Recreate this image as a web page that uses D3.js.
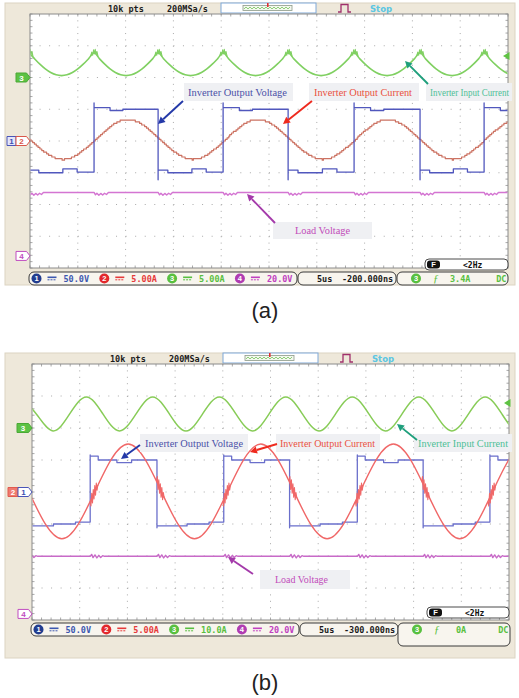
<!DOCTYPE html>
<html>
<head>
<meta charset="utf-8">
<script src="https://cdn.jsdelivr.net/npm/d3@7/dist/d3.min.js"></script>
<style>
  html, body { margin: 0; padding: 0; background: #fff; }
  svg { display: block; }
</style>
</head>
<body>
<script>
// Two oscilloscope captures of the inverter waveforms, (a) and (b)

// Horizontal: 10 divisions at 5 µs/div, trigger at centre; vertical: 8 divisions
const timeTicks = [-25, -20, -15, -10, -5, 0, 5, 10, 15, 20, 25];
const divTicks = [-4, -3, -2, -1, 0, 1, 2, 3, 4];
const channelIds = ["1", "2", "3", "4"];
const noteText = ["Inverter Output Voltage", "Inverter Output Current", "Inverter Input Current", "Load Voltage"];

// ---- capture (a) ----
const aChScale  = [50, 5, 5, 20];            // V/div, A/div, A/div, V/div
const aChOffset = [0, 0, 2, -3.62];          // ground markers, divisions
const aChText   = ["50.0V", "5.00A", "5.00A", "20.0V"];
const aTimeText = ["5us", "-200.000ns"];
const aTrigText = ["3.4A", "DC"];
const aTrigLevel = 3.4;                       // A, channel 3
// output-voltage switching instants (µs), first one is a falling edge
const aEdges = [-25.1, -18.3, -11.6, -4.8, 2.0, 8.9, 15.8, 22.5, 29.3];
const aVoltSpike = [60, -61];                 // overshoot on rising / falling edge (V)
const aVoltHigh = [[0, 52.5], [0.25, 48], [0.45, 50]];          // [fraction of interval, V]
const aVoltLow  = [[0, -46], [0.15, -50], [0.52, -44], [0.74, -49]];
// output current: crossings, troughs and peaks (µs, A)
const aCurT = [-25.0, -21.6, -18.2, -14.8, -11.4, -8.0, -4.6, -1.2, 2.2, 5.6, 9.0, 12.4, 15.8, 19.2, 22.6, 26.0, 29.4];
const aCurI = [0.2, -2.9, 0.2, 3.4, 0.2, -2.9, 0.2, 3.4, 0.2, -2.9, 0.2, 3.4, 0.2, -2.9, 0.2, 3.4, 0.2];
// input current across one switching interval (A), edge to edge in 12 steps
const aInProfile = [3.9, 2.97, 2.1, 1.35, 0.78, 0.42, 0.3, 0.42, 0.78, 1.35, 2.1, 2.97, 3.9];
const aInGlitch = [[-0.35, -0.55], [-0.24, 0.1], [-0.14, -0.4], [-0.05, 0.45], [0.04, -0.2], [0.12, 0.55], [0.2, -0.2], [0.3, 0.2], [0.42, -0.6]];
const aLoadLevel = 40;                         // V
const aLoadGlitch = [[0, 0], [0.15, -1.5], [0.3, -0.5], [0.5, -1.8], [0.7, -0.6], [0.9, -1.6], [1.1, -0.5], [1.3, -1.3], [1.5, 0]];

// ---- capture (b) ----
const bChScale  = [50, 5, 10, 20];
const bChOffset = [0, 0, 2, -3.81];
const bChText   = ["50.0V", "5.00A", "10.0A", "20.0V"];
const bTimeText = ["5us", "-300.000ns"];
const bTrigText = ["0A", "DC"];
const bTrigLevel = 7.8;
const bEdges = [-25.9, -18.9, -11.9, -4.9, 2.0, 9.1, 16.0, 23.0, 30.0];
const bVoltSpike = [58, -56];
const bVoltHigh = [[0, 56], [0.12, 50], [0.4, 46], [0.62, 50]];
const bVoltLow  = [[0, -53], [0.45, -50], [0.78, -47]];
const bCurT = [-25.35, -21.87, -18.4, -14.92, -11.45, -7.97, -4.5, -1.02, 2.45, 5.93, 9.4, 12.88, 16.35, 19.83, 23.3, 26.78, 30.25];
const bCurI = [0.1, -7.3, 0.1, 7.5, 0.1, -7.3, 0.1, 7.5, 0.1, -7.3, 0.1, 7.5, 0.1, -7.3, 0.1, 7.5, 0.1];
// switching noise riding on the current at its zero crossings (µs, A) for a rising crossing
const bCurGlitch = [[-0.5, -1.6], [-0.42, -2.3], [-0.34, -0.3], [-0.26, -1.8], [-0.18, 0.3], [-0.1, -1.2], [-0.02, 0.9], [0.06, -0.6], [0.14, 1.3], [0.22, 0.2], [0.3, 1.0]];
const bInT = [-26.3, -24.55, -22.8, -21.05, -19.3, -17.57, -15.83, -14.09, -12.35, -10.6, -8.86, -7.12, -5.37, -3.63, -1.89, -0.15, 1.6, 3.34, 5.08, 6.82, 8.57, 10.31, 12.05, 13.79, 15.54, 17.28, 19.02, 20.76, 22.5, 24.25, 25.99, 27.73, 29.5];
const bInI = [9.7, 4.4, -0.9, 4.4, 9.7, 4.4, -0.9, 4.4, 9.7, 4.4, -0.9, 4.4, 9.7, 4.4, -0.9, 4.4, 9.7, 4.4, -0.9, 4.4, 9.7, 4.4, -0.9, 4.4, 9.7, 4.4, -0.9, 4.4, 9.7, 4.4, -0.9, 4.4, 9.7];
const bLoadLevel = 36;
const bLoadGlitch = [[0, 0], [0.15, 1.2], [0.3, -0.8], [0.5, 0.9], [0.7, -1.0], [0.9, 0.6], [1.1, -0.7], [1.3, 0.4], [1.5, 0]];

// ---------- drawing ----------
const MONO = "'DejaVu Sans Mono', 'Liberation Mono', monospace";
const SERIF = "'Liberation Serif', 'Times New Roman', serif";
const SANS = "'Liberation Sans', Arial, sans-serif";

const chDark = ["#223d8f", "#e3282c", "#58c03f", "#b03cb2"];
const chText = ["#3d58b0", "#e63a3a", "#58bf40", "#c040c0"];
const noteColor = ["#4b50a8", "#ea5040", "#4cbf96", "#c24cba"];
const arrowColor = ["#2439a8", "#ee2a1e", "#1f9f7c", "#a43aaa"];

const svg = d3.select("body").append("svg")
  .attr("width", 519).attr("height", 698)
  .attr("font-family", SANS);
svg.append("rect").attr("width", 519).attr("height", 698).attr("fill", "#fff");

function buildSquare(edges, high, low, spike) {
  const pts = [];
  for (let i = 0; i < edges.length - 1; i++) {
    const e = edges[i], h = edges[i + 1] - e;
    const rising = i % 2 === 1;
    const steps = rising ? high : low;
    pts.push([e, rising ? spike[0] : spike[1]]);
    steps.forEach((s, j) => {
      const f1 = j + 1 < steps.length ? steps[j + 1][0] : 1;
      pts.push([e + s[0] * h, s[1]]);
      pts.push([e + f1 * h, s[1]]);
    });
  }
  return pts;
}

function buildCusped(edges, profile) {
  const pts = [];
  const n = profile.length - 1;
  for (let i = 0; i < edges.length - 1; i++) {
    const e = edges[i], h = edges[i + 1] - e;
    for (let k = i === 0 ? 0 : 1; k <= n; k++) pts.push([e + (k / n) * h, profile[k]]);
  }
  return pts;
}

function buildLoad(edges, level, glitch) {
  const pts = [[-27, level]];
  edges.forEach(e => glitch.forEach(p => pts.push([e + p[0], level + p[1]])));
  pts.push([31, level]);
  return pts;
}

function tag(g, x1, x2, y, label, fill, stroke, textFill, pointed) {
  const h = 4.5;
  const d = pointed
    ? `M${x1},${y - h}H${x2 - 3.5}L${x2},${y}L${x2 - 3.5},${y + h}H${x1}Z`
    : `M${x1},${y - h}H${x2}V${y + h}H${x1}Z`;
  g.append("path").attr("d", d).attr("fill", fill).attr("stroke", stroke).attr("stroke-width", 1);
  g.append("text").attr("x", (x1 + x2 - (pointed ? 3 : 0)) / 2).attr("y", y + 3)
    .attr("text-anchor", "middle").attr("font-size", 8).attr("font-weight", "bold")
    .attr("fill", textFill).text(label);
}

function arrow(g, tail, head, color) {
  const dx = head[0] - tail[0], dy = head[1] - tail[1];
  const len = Math.hypot(dx, dy), ux = dx / len, uy = dy / len;
  const hl = 7, hw = 3.6;
  const bx = head[0] - ux * hl, by = head[1] - uy * hl;
  g.append("line").attr("x1", tail[0]).attr("y1", tail[1]).attr("x2", bx).attr("y2", by)
    .attr("stroke", color).attr("stroke-width", 1.9);
  g.append("path")
    .attr("d", `M${head[0]},${head[1]}L${bx - uy * hw},${by + ux * hw}L${bx + uy * hw},${by - ux * hw}Z`)
    .attr("fill", color);
}

function drawCapture(o) {
  const L = o.layout;
  const g = svg.append("g");
  const [gx0, gy0, gx1, gy1] = L.grid;

  // bezel
  g.append("rect").attr("x", L.frame[0]).attr("y", L.frame[1])
    .attr("width", L.frame[2]).attr("height", L.frame[3])
    .attr("fill", "#eee8da").attr("stroke", "#dcd4c2");

  const x = d3.scaleLinear().domain([timeTicks[0], timeTicks[timeTicks.length - 1]]).range([gx0, gx1]);
  const yDiv = d3.scaleLinear().domain([divTicks[0], divTicks[divTicks.length - 1]]).range([gy1, gy0]);
  const yCh = i => v => yDiv(o.offset[i] + v / o.scale[i]);

  // header
  const ft = L.frame[1];
  const hx = gx0;
  const hb = ft + 8.5;
  g.append("text").attr("x", hx + 78).attr("y", hb).attr("font-family", MONO).attr("font-weight", "bold")
    .attr("font-size", 8.5).attr("fill", "#1c1c1c").text("10k pts");
  g.append("text").attr("x", hx + 137).attr("y", hb).attr("font-family", MONO).attr("font-weight", "bold")
    .attr("font-size", 8.5).attr("fill", "#1c1c1c").text("200MSa/s");
  g.append("rect").attr("x", hx + 191).attr("y", ft).attr("width", 95).attr("height", 10)
    .attr("fill", "#fff").attr("stroke", "#7ea8d8").attr("stroke-width", 1);
  g.append("rect").attr("x", hx + 213).attr("y", ft + 2.5).attr("width", 49).attr("height", 5)
    .attr("fill", "#f3f7ee").attr("stroke", "#8c9a88").attr("stroke-width", 0.8);
  const zig = d3.range(hx + 214, hx + 261, 2).map((v, i) => [v, ft + (i % 2 ? 4 : 6)]);
  g.append("path").attr("d", d3.line()(zig)).attr("fill", "none").attr("stroke", "#74c45a").attr("stroke-width", 0.8);
  g.append("rect").attr("x", hx + 237).attr("y", ft).attr("width", 1.6).attr("height", 4).attr("fill", "#e03030");
  g.append("path").attr("d", `M${x(0) - 4.5},${gy0}H${x(0) + 4.5}L${x(0)},${gy0 + 5}Z`).attr("fill", "#3ea6e0");
  g.append("path").attr("d", `M${hx + 308},${ft + 9}H${hx + 311}V${ft + 1.5}H${hx + 318}V${ft + 9}H${hx + 321}`)
    .attr("fill", "none").attr("stroke", "#a0306c").attr("stroke-width", 1.3);
  g.append("text").attr("x", hx + 340).attr("y", hb).attr("font-family", "'DejaVu Sans', sans-serif")
    .attr("font-weight", "bold").attr("font-size", 8.5).attr("fill", "#5cc6e2").text("Stop");

  // graticule
  g.append("rect").attr("x", gx0).attr("y", gy0).attr("width", gx1 - gx0).attr("height", gy1 - gy0).attr("fill", "#fff");
  const dxMinor = (x(5) - x(0)) / 5, dyMinor = (yDiv(0) - yDiv(1)) / 5;
  const grid = g.append("g").attr("stroke", "#a9a9a9").attr("stroke-width", 1);
  timeTicks.slice(1, -1).forEach(t => {
    grid.append("line").attr("x1", x(t)).attr("x2", x(t)).attr("y1", gy0).attr("y2", gy1)
      .attr("stroke-dasharray", `1 ${dyMinor - 1}`);
  });
  divTicks.slice(1, -1).forEach(d => {
    grid.append("line").attr("y1", yDiv(d)).attr("y2", yDiv(d)).attr("x1", gx0).attr("x2", gx1)
      .attr("stroke-dasharray", `1 ${dxMinor - 1}`);
  });
  d3.range(timeTicks[0], timeTicks[timeTicks.length - 1] + 0.01, 1).forEach(t => {
    grid.append("line").attr("x1", x(t)).attr("x2", x(t)).attr("y1", gy0).attr("y2", gy0 + 2.5);
    grid.append("line").attr("x1", x(t)).attr("x2", x(t)).attr("y1", gy1 - 2.5).attr("y2", gy1);
  });
  d3.range(divTicks[0], divTicks[divTicks.length - 1] + 0.01, 0.2).forEach(d => {
    grid.append("line").attr("y1", yDiv(d)).attr("y2", yDiv(d)).attr("x1", gx0).attr("x2", gx0 + 2.5);
    grid.append("line").attr("y1", yDiv(d)).attr("y2", yDiv(d)).attr("x1", gx1 - 2.5).attr("x2", gx1);
  });
  g.append("rect").attr("x", gx0).attr("y", gy0).attr("width", gx1 - gx0).attr("height", gy1 - gy0)
    .attr("fill", "none").attr("stroke", "#8a8a8a").attr("stroke-width", 1);

  // traces
  const clipId = "clip" + o.name;
  g.append("clipPath").attr("id", clipId).append("rect")
    .attr("x", gx0 + 0.5).attr("y", gy0 + 0.5).attr("width", gx1 - gx0 - 1).attr("height", gy1 - gy0 - 1);
  const tr = g.append("g").attr("clip-path", `url(#${clipId})`).attr("fill", "none")
    .attr("stroke-linejoin", "round");
  const lineFor = (i, curve) => d3.line().x(d => x(d[0])).y(d => yCh(i)(d[1])).curve(curve || d3.curveLinear);

  const traces = {
    load: () => {
      tr.append("path").attr("d", lineFor(3)(buildLoad(o.edges, o.loadLevel, o.loadGlitch)))
        .attr("stroke", o.colors[3]).attr("stroke-width", 1.4);
    },
    input: () => {
      tr.append("path").attr("d", lineFor(2, o.inCurve)(o.inputPts))
        .attr("stroke", o.colors[2]).attr("stroke-width", o.inWidth);
      (o.inGlitchPts || []).forEach(p => tr.append("path").attr("d", lineFor(2)(p))
        .attr("stroke", o.colors[2]).attr("stroke-width", 1.1));
    },
    current: () => {
      const pts = o.curT.map((t, i) => [t, o.curI[i]]);
      const smooth = tr.append("path").attr("d", lineFor(1, d3.curveNatural)(pts))
        .attr("stroke", o.colors[1]).attr("stroke-width", o.curWidth);
      if (o.curQuant) {
        // digitised look: resample the curve and hold each sample on the ADC level grid
        const node = smooth.node(), total = node.getTotalLength();
        const yc = yCh(1)(0), q = o.curQuant;
        const held = d3.range(0, total, 1.2).map(l => {
          const p = node.getPointAtLength(l);
          return [p.x, yc + Math.round((p.y - yc) / q) * q];
        });
        smooth.attr("d", d3.line().curve(d3.curveStepAfter)(held));
      }
      (o.curGlitchPts || []).forEach(p => tr.append("path").attr("d", lineFor(1)(p))
        .attr("stroke", o.colors[1]).attr("stroke-width", 1.1));
    },
    voltage: () => {
      tr.append("path").attr("d", lineFor(0)(buildSquare(o.edges, o.vHigh, o.vLow, o.vSpike)))
        .attr("stroke", o.colors[0]).attr("stroke-width", 1.3);
    }
  };
  o.order.forEach(k => traces[k]());

  // channel ground markers and trigger level
  o.tags.forEach(t => tag(g, t.x1, t.x2, yCh(t.ch)(0), channelIds[t.ch], t.fill, t.stroke, t.text, t.pointed));
  const ty = yCh(2)(o.trigLevel);
  g.append("path").attr("d", `M${gx1 + 1.5},${ty - 4}V${ty + 4}L${gx1 - 5},${ty}Z`).attr("fill", "#5fc244");

  // annotations
  o.notes.forEach((n, i) => {
    g.append("rect").attr("x", n.box[0]).attr("y", n.box[1]).attr("width", n.box[2]).attr("height", n.box[3])
      .attr("fill", "#eff0f3");
    g.append("text").attr("x", n.tx).attr("y", n.ty).attr("font-family", SERIF).attr("font-size", n.fs || 10.5)
      .attr("textLength", n.tw).attr("lengthAdjust", "spacingAndGlyphs")
      .attr("fill", noteColor[i]).text(noteText[i]);
    arrow(g, n.tail, n.head, arrowColor[i]);
  });

  // frequency counter
  const F = L.fbox;
  g.append("rect").attr("x", F[0]).attr("y", F[1]).attr("width", F[2]).attr("height", F[3]).attr("rx", 4)
    .attr("fill", "#fff").attr("stroke", "#4a4a4a");
  g.append("rect").attr("x", F[0] + 2).attr("y", F[1] + 1.5).attr("width", 13).attr("height", F[3] - 3).attr("rx", 3)
    .attr("fill", "#111");
  g.append("text").attr("x", F[0] + 8.5).attr("y", F[1] + 8.3).attr("text-anchor", "middle").attr("font-size", 7.5)
    .attr("font-weight", "bold").attr("fill", "#fff").text("F");
  g.append("text").attr("x", F[0] + 38).attr("y", F[1] + 8.5).attr("font-family", MONO).attr("font-weight", "bold")
    .attr("font-size", 8).attr("fill", "#111").text("<2Hz");

  // status line
  const sy = L.statusY, sh = 13, cy = sy + sh / 2;
  g.append("rect").attr("x", gx0 - 1).attr("y", sy).attr("width", L.chanBoxW).attr("height", sh).attr("rx", 5)
    .attr("fill", "#f8f5ee").attr("stroke", "#3a3a3a");
  o.chText.forEach((txt, i) => {
    const cx = gx0 + 6.5 + i * 67.8;
    g.append("circle").attr("cx", cx).attr("cy", cy).attr("r", 5).attr("fill", chDark[i]);
    g.append("text").attr("x", cx).attr("y", cy + 2.8).attr("text-anchor", "middle").attr("font-size", 7.5)
      .attr("font-weight", "bold").attr("fill", "#fff").text(channelIds[i]);
    g.append("line").attr("x1", cx + 11).attr("x2", cx + 20).attr("y1", cy - 1.2).attr("y2", cy - 1.2)
      .attr("stroke", chText[i]).attr("stroke-width", 1.6);
    g.append("line").attr("x1", cx + 11).attr("x2", cx + 20).attr("y1", cy + 1.3).attr("y2", cy + 1.3)
      .attr("stroke", chText[i]).attr("stroke-width", 1).attr("stroke-dasharray", "2 1");
    g.append("text").attr("x", cx + 27).attr("y", cy + 3).attr("font-family", MONO).attr("font-weight", "bold")
      .attr("font-size", 8.5).attr("fill", chText[i]).text(txt);
  });
  const TB = L.timeBox;
  g.append("rect").attr("x", TB[0]).attr("y", sy).attr("width", TB[1]).attr("height", sh).attr("rx", 5)
    .attr("fill", "#f8f5ee").attr("stroke", "#3a3a3a");
  g.append("text").attr("x", TB[0] + 19).attr("y", cy + 3).attr("font-family", MONO).attr("font-weight", "bold")
    .attr("font-size", 8.5).attr("fill", "#1a1a1a").text(o.timeText[0]);
  g.append("text").attr("x", TB[0] + 44).attr("y", cy + 3).attr("font-family", MONO).attr("font-weight", "bold")
    .attr("font-size", 8.5).attr("fill", "#1a1a1a").text(o.timeText[1]);
  const RB = L.trigBox;
  g.append("rect").attr("x", RB[0]).attr("y", sy).attr("width", RB[1]).attr("height", RB[2]).attr("rx", 5)
    .attr("fill", "#f8f5ee").attr("stroke", "#3a3a3a");
  g.append("circle").attr("cx", RB[0] + 19).attr("cy", cy).attr("r", 5).attr("fill", chDark[2]);
  g.append("text").attr("x", RB[0] + 19).attr("y", cy + 2.8).attr("text-anchor", "middle").attr("font-size", 7.5)
    .attr("font-weight", "bold").attr("fill", "#fff").text(channelIds[2]);
  g.append("text").attr("x", RB[0] + 36).attr("y", cy + 3.5).attr("font-family", SERIF).attr("font-style", "italic")
    .attr("font-size", 11).attr("fill", chText[2]).text("ƒ");
  g.append("text").attr("x", RB[3]).attr("y", cy + 3).attr("font-family", MONO).attr("font-weight", "bold")
    .attr("font-size", 8.5).attr("fill", chText[2]).text(o.trigText[0]);
  g.append("text").attr("x", RB[0] + RB[1] - 1.5).attr("y", cy + 3).attr("text-anchor", "end")
    .attr("font-family", MONO).attr("font-weight", "bold").attr("font-size", 8.5)
    .attr("fill", chText[2]).text(o.trigText[1]);

  // caption
  svg.append("text").attr("x", 265).attr("y", L.captionY).attr("text-anchor", "middle")
    .attr("font-size", 22).attr("fill", "#222").text(o.caption);
}

// glitch overlays
function cuspGlitches(edges, cusp, pattern) {
  return edges.map(e => pattern.map(p => [e + p[0], cusp + p[1]]));
}
function crossingGlitches(T, I, pattern) {
  const out = [];
  for (let i = 0; i < T.length - 1; i += 2) {
    const s = Math.sign(I[i + 1] - I[i]);
    out.push(pattern.map(p => [T[i] + p[0], I[i] + s * p[1]]));
  }
  return out;
}

drawCapture({
  name: "a", caption: "(a)",
  layout: {
    frame: [5, 3, 510, 282], grid: [30, 14, 508, 268],
    statusY: 272, chanBoxW: 268, timeBox: [298, 98], trigBox: [397, 111, 13, 450],
    fbox: [425, 259, 83, 11], captionY: 318
  },
  scale: aChScale, offset: aChOffset, chText: aChText, timeText: aTimeText, trigText: aTrigText,
  trigLevel: aTrigLevel,
  colors: ["#5057bd", "#cc7262", "#80d062", "#d475d2"],
  edges: aEdges, vHigh: aVoltHigh, vLow: aVoltLow, vSpike: aVoltSpike,
  curT: aCurT, curI: aCurI, curWidth: 1.2, curQuant: 1.6,
  inputPts: buildCusped(aEdges, aInProfile), inCurve: d3.curveCatmullRom, inWidth: 1.6,
  inGlitchPts: cuspGlitches(aEdges, aInProfile[0], aInGlitch),
  loadLevel: aLoadLevel, loadGlitch: aLoadGlitch,
  order: ["load", "input", "current", "voltage"],
  tags: [
    { ch: 2, x1: 16, x2: 30, fill: "#5cc244", stroke: "#4aa836", text: "#fff", pointed: true },
    { ch: 0, x1: 7, x2: 16, fill: "#e3e6fa", stroke: "#4a55b8", text: "#3d4db0", pointed: false },
    { ch: 1, x1: 16, x2: 30, fill: "#fff", stroke: "#d9574a", text: "#d9574a", pointed: true },
    { ch: 3, x1: 16, x2: 30, fill: "#fff", stroke: "#c04cc0", text: "#c04cc0", pointed: true }
  ],
  notes: [
    { tx: 188, ty: 95.5, tw: 99, box: [184, 83, 109, 18], tail: [183, 101], head: [158, 124] },
    { tx: 314, ty: 95.5, tw: 98, box: [309, 83, 110, 18], tail: [312, 101], head: [283, 124] },
    { tx: 430, ty: 95.5, tw: 79, fs: 9.5, box: [426, 83, 86, 18], tail: [428, 84], head: [405, 61] },
    { tx: 295, ty: 233.5, tw: 55, box: [273, 222, 99, 17], tail: [275, 223], head: [247, 194] }
  ]
});

drawCapture({
  name: "b", caption: "(b)",
  layout: {
    frame: [5, 353, 510, 305], grid: [32, 364, 509, 620],
    statusY: 623, chanBoxW: 268, timeBox: [300, 98], trigBox: [398, 112, 23, 456],
    fbox: [427, 607, 82, 11], captionY: 690
  },
  scale: bChScale, offset: bChOffset, chText: bChText, timeText: bTimeText, trigText: bTrigText,
  trigLevel: bTrigLevel,
  colors: ["#6a6fcb", "#f06868", "#88cc58", "#c86ac8"],
  edges: bEdges, vHigh: bVoltHigh, vLow: bVoltLow, vSpike: bVoltSpike,
  curT: bCurT, curI: bCurI, curWidth: 1.4,
  curGlitchPts: crossingGlitches(bCurT, bCurI, bCurGlitch),
  inputPts: bInT.map((t, i) => [t, bInI[i]]), inCurve: d3.curveNatural, inWidth: 1.5,
  loadLevel: bLoadLevel, loadGlitch: bLoadGlitch,
  order: ["load", "input", "voltage", "current"],
  tags: [
    { ch: 2, x1: 17, x2: 32, fill: "#5cc244", stroke: "#4aa836", text: "#fff", pointed: true },
    { ch: 1, x1: 8, x2: 18, fill: "#f07a6e", stroke: "#e05a4e", text: "#fff", pointed: false },
    { ch: 0, x1: 18, x2: 32, fill: "#fff", stroke: "#4a55b8", text: "#3d4db0", pointed: true },
    { ch: 3, x1: 18, x2: 32, fill: "#fff", stroke: "#c04cc0", text: "#c04cc0", pointed: true }
  ],
  notes: [
    { tx: 145, ty: 446.5, tw: 98, box: [140, 434, 108, 18], tail: [140, 445], head: [121, 459] },
    { tx: 280, ty: 446.5, tw: 95, box: [276, 434, 104, 18], tail: [277, 444], head: [250, 452] },
    { tx: 418, ty: 446.5, tw: 90, box: [414, 434, 98, 18], tail: [417, 440], head: [397, 424] },
    { tx: 275, ty: 582.5, tw: 53, box: [260, 570, 90, 19], tail: [253, 574], head: [228, 557] }
  ]
});
</script>
</body>
</html>
